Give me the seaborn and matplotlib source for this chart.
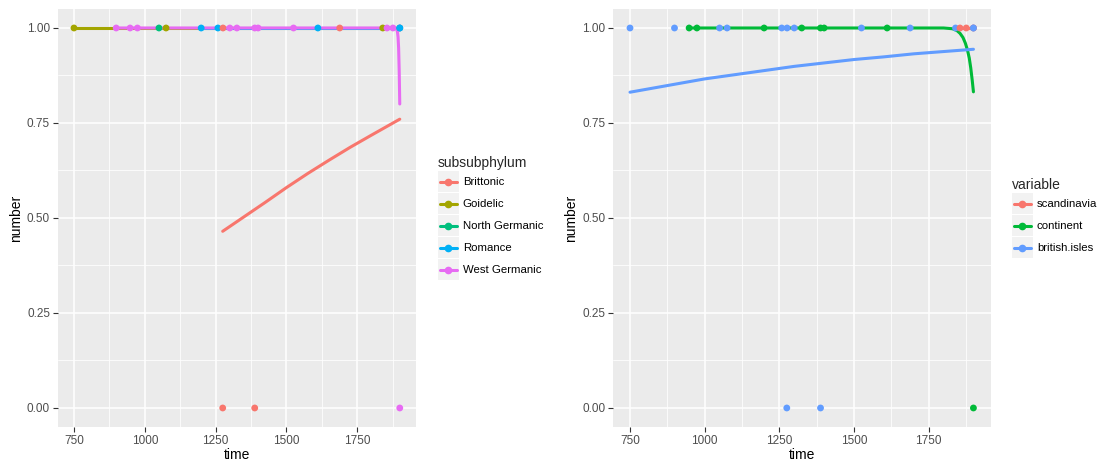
import matplotlib
matplotlib.use("Agg")
import numpy as np
import pandas as pd
import matplotlib.pyplot as plt
import seaborn as sns
from matplotlib.lines import Line2D
from matplotlib.patches import Rectangle
from matplotlib.legend_handler import HandlerBase

# observations (each row shown in both panels, grouped two ways)
time = [750, 899, 948, 974, 1050, 1075, 1199, 1258, 1276, 1300, 1325, 1388,
        1400, 1525, 1611, 1688, 1840, 1855, 1876, 1900, 1900, 1900,
        1275, 1388, 1900]
number = [1, 1, 1, 1, 1, 1, 1, 1, 1, 1, 1, 1,
          1, 1, 1, 1, 1, 1, 1, 1, 1, 1,
          0, 0, 0]
subsubphylum = ["Goidelic", "West Germanic", "West Germanic", "West Germanic",
                "North Germanic", "Goidelic", "Romance", "Romance", "Brittonic",
                "West Germanic", "West Germanic", "West Germanic", "West Germanic",
                "West Germanic", "Romance", "Brittonic", "Goidelic",
                "West Germanic", "West Germanic", "Brittonic", "Romance", "Romance",
                "Brittonic", "Brittonic", "West Germanic"]
region = ["british.isles", "british.isles", "continent", "continent",
          "british.isles", "british.isles", "continent", "british.isles",
          "british.isles", "british.isles", "continent", "continent", "continent",
          "british.isles", "continent", "british.isles", "british.isles",
          "scandinavia", "scandinavia", "british.isles", "scandinavia",
          "british.isles", "british.isles", "british.isles", "continent"]

subsub_levels = ["Brittonic", "Goidelic", "North Germanic", "Romance", "West Germanic"]
subsub_colors = ["#F8766D", "#A3A500", "#00BF7D", "#00B0F6", "#E76BF3"]
region_levels = ["scandinavia", "continent", "british.isles"]
region_colors = ["#F8766D", "#00BA38", "#619CFF"]

# fitted (binomial smooth) curves
brittonic_fit_time = [1275, 1350, 1425, 1500, 1575, 1650, 1725, 1800, 1900]
brittonic_fit_prob = [0.465, 0.503, 0.541, 0.580, 0.617, 0.652, 0.686, 0.718, 0.760]
goidelic_fit_time = [750, 1840]
goidelic_fit_prob = [1.0, 1.0]
romance_fit_time = [1199, 1900]
romance_fit_prob = [1.0, 1.0]
westgerm_fit_time = [899, 1880, 1885, 1888, 1890, 1892, 1894, 1896, 1898, 1900]
westgerm_fit_prob = [1.0, 1.0, 0.9997, 0.998, 0.995, 0.989, 0.976, 0.947, 0.888, 0.80]

scand_fit_time = [1855, 1900]
scand_fit_prob = [1.0, 1.0]
continent_fit_time = [948, 1800, 1830, 1845, 1855, 1865, 1873, 1880, 1886, 1891, 1896, 1900]
continent_fit_prob = [1.0, 1.0, 0.998, 0.993, 0.986, 0.975, 0.960, 0.942, 0.921, 0.895, 0.862, 0.832]
isles_fit_time = [750, 900, 1000, 1100, 1200, 1300, 1400, 1500, 1600, 1700, 1800, 1900]
isles_fit_prob = [0.831, 0.852, 0.866, 0.877, 0.888, 0.899, 0.908, 0.917, 0.924, 0.932, 0.938, 0.944]

df = pd.DataFrame({"time": time, "number": number,
                   "subsubphylum": subsubphylum, "variable": region})


def fit_frame(curves, col):
    parts = []
    for name, t, p in curves:
        parts.append(pd.DataFrame({"time": t, "number": p, col: name}))
    return pd.concat(parts, ignore_index=True)


fit_left = fit_frame([("Brittonic", brittonic_fit_time, brittonic_fit_prob),
                      ("Goidelic", goidelic_fit_time, goidelic_fit_prob),
                      ("Romance", romance_fit_time, romance_fit_prob),
                      ("West Germanic", westgerm_fit_time, westgerm_fit_prob)],
                     "subsubphylum")
fit_right = fit_frame([("scandinavia", scand_fit_time, scand_fit_prob),
                       ("continent", continent_fit_time, continent_fit_prob),
                       ("british.isles", isles_fit_time, isles_fit_prob)],
                      "variable")


class KeyHandler(HandlerBase):
    # ggplot-like legend key: grey square with a line and a dot in the middle
    def create_artists(self, legend, orig, xd, yd, w, h, fs, trans):
        c = orig.get_color()
        yc = -yd + h / 2
        box = Rectangle((-xd, -yd), w, h, facecolor="#F2F2F2",
                        edgecolor="none", transform=trans)
        line = Line2D([-xd + 0.08 * w, -xd + 0.92 * w], [yc, yc], color=c,
                      lw=2.2, transform=trans)
        dot = Line2D([-xd + w / 2], [yc], color=c, marker="o", markersize=4.5,
                     lw=0, transform=trans)
        return [box, line, dot]


sns.set_theme(style="darkgrid", rc={"axes.facecolor": "#EBEBEB",
                                    "grid.color": "white"})
plt.rcParams["font.family"] = ["Liberation Sans", "DejaVu Sans"]

fig = plt.figure(figsize=(11.03, 4.61), dpi=100)
ax1 = fig.add_axes([0.0523, 0.0738, 0.3249, 0.9067])
ax2 = fig.add_axes([0.5556, 0.0738, 0.3425, 0.9067])


def draw_panel(ax, fits, col, levels, colors, title, anchor_x):
    pal = dict(zip(levels, colors))
    fit_levels = [l for l in levels if l in set(fits[col])]
    sns.lineplot(data=fits, x="time", y="number", hue=col, hue_order=fit_levels,
                 palette=pal, estimator=None, sort=False, lw=2.2,
                 legend=False, ax=ax, zorder=2)
    sns.scatterplot(data=df, x="time", y="number", hue=col, hue_order=levels,
                    palette=pal, s=24, linewidth=0, legend=False, ax=ax, zorder=3)

    ax.set_xlim(692.5, 1957.5)
    ax.set_ylim(-0.05, 1.05)
    ax.set_xticks([750, 1000, 1250, 1500, 1750])
    ax.set_xticks([875, 1125, 1375, 1625, 1875], minor=True)
    ax.set_yticks([0, 0.25, 0.5, 0.75, 1.0])
    ax.set_yticklabels(["0.00", "0.25", "0.50", "0.75", "1.00"])
    ax.set_yticks([0.125, 0.375, 0.625, 0.875], minor=True)
    ax.grid(which="major", color="white", lw=1.1)
    ax.grid(which="minor", color="white", lw=0.55)
    ax.tick_params(which="major", length=3.5, width=0.8, color="#333333",
                   labelcolor="#4D4D4D", labelsize=8.5, pad=2,
                   bottom=True, left=True)
    ax.tick_params(which="minor", length=0)
    for s in ax.spines.values():
        s.set_visible(False)
    ax.set_xlabel("time", fontsize=10, color="black", labelpad=1)
    ax.set_ylabel("number", fontsize=10, color="black", labelpad=3)

    handles = [Line2D([], [], color=c) for c in colors]
    leg = ax.legend(handles, levels, title=title, loc="center left",
                    bbox_to_anchor=(anchor_x, 0.5), frameon=False,
                    handler_map={Line2D: KeyHandler()},
                    handlelength=1.84, handleheight=2.44, labelspacing=0.1,
                    handletextpad=0.35, borderpad=0, borderaxespad=0,
                    fontsize=8.2, title_fontsize=10, alignment="left")
    for t in leg.get_texts():
        t.set_color("black")


draw_panel(ax1, fit_left, "subsubphylum", subsub_levels, subsub_colors,
           "subsubphylum", 1.061)
draw_panel(ax2, fit_right, "variable", region_levels, region_colors,
           "variable", 1.0566)

fig.savefig("out.png", dpi=100)
